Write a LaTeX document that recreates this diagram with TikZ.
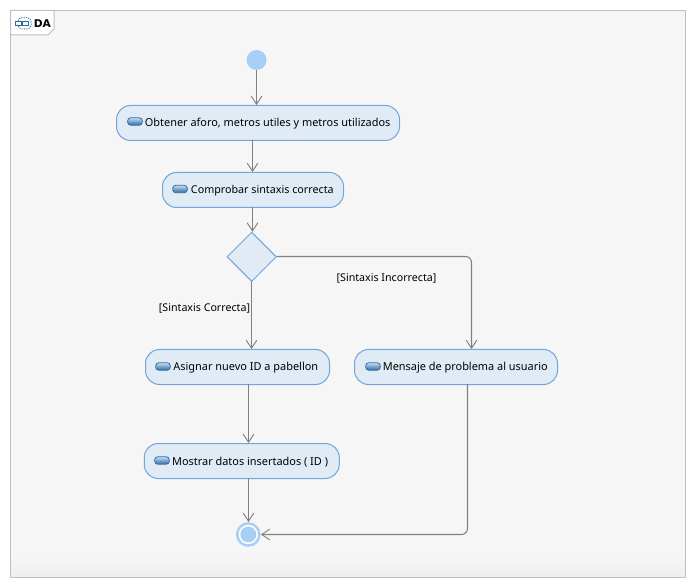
\documentclass[tikz,border=0pt]{standalone}
\usepackage{fontspec}
\setmainfont{Noto Sans}
\newfontfamily\titlefont{DejaVu Sans}
\usetikzlibrary{arrows.meta,shapes.geometric,calc}
\definecolor{frameC}{HTML}{C0C0C0}
\definecolor{bgC}{HTML}{F6F6F6}
\definecolor{boxFill}{HTML}{E1EBF6}
\definecolor{boxLine}{HTML}{72A5DC}
\definecolor{discC}{HTML}{A9CEF5}
\definecolor{wireC}{HTML}{808080}
\definecolor{pillDark}{HTML}{2F6BA3}
\definecolor{pillLight}{HTML}{C4DAEE}
\tikzset{
  x=0.75pt,y=-0.75pt,
  txt/.style={font=\fontsize{8.2}{10}\selectfont,text=black,inner sep=0pt},
  action/.style={txt,text height=6.5pt,text depth=1.5pt,draw=boxLine,fill=boxFill,line width=0.75pt,rounded corners=10.5pt,minimum height=26.25pt,anchor=center},
  lower/.style={text height=7.5pt},
  decision/.style={diamond,aspect=1,draw=boxLine,fill=boxFill,line width=0.75pt,minimum width=37pt,minimum height=37pt,inner sep=0pt},
  startdisc/.style={circle,fill=discC,minimum size=15pt,inner sep=0pt},
  wire/.style={draw=wireC,line width=0.8pt,-{Straight Barb[length=6pt,width=8pt,line width=0.7pt]}},
  pill/.style={draw=pillDark,line width=0.6pt,rounded corners=2.2pt,top color=pillLight,bottom color=pillDark,minimum width=11pt,minimum height=5.5pt,inner sep=0pt},
  tabsq/.style={draw=pillDark,fill=white,line width=0.5pt,minimum width=4.5pt,minimum height=3.5pt,inner sep=0pt},
}
\begin{document}
\begin{tikzpicture}
\useasboundingbox (0,0) rectangle (697,588);
\fill[white] (0,0) rectangle (697,588);
% frame
\fill[bgC] (10.5,10.5) rectangle (685.5,560);
\shade[top color=bgC,bottom color=black!7] (10.5,555) rectangle (685.5,577);
\draw[frameC,line width=0.75pt] (10.5,10.5) rectangle (685.5,577);
\filldraw[fill=white,draw=frameC,line width=0.75pt] (10.5,10.5) -- (54,10.5) -- (54,29) -- (48,35) -- (10.5,35) -- cycle;
\draw[pillDark,densely dotted,line width=0.75pt,rounded corners=3pt] (18,17.5) rectangle (31,29);
\node[tabsq] (tabA) at (18.5,23.5) {};
\node[tabsq] (tabB) at (25.5,23.5) {};
\node[txt,font=\fontsize{8}{10}\selectfont\titlefont\bfseries,anchor=west] (title) at (33.5,23.5) {DA};
% nodes
\node[startdisc] (start) at (256.5,60) {};
\node[action,minimum width=212.25pt] (n1) at (258,123) {\hspace{14.5pt}Obtener aforo, metros utiles y metros utilizados};
\node[action,minimum width=135.75pt,font=\fontsize{8.05}{10}\selectfont] (n2) at (253,190) {\hspace{14pt}Comprobar sintaxis correcta};
\node[decision] (d) at (251.7,256.8) {};
\node[action,lower,minimum width=138pt] (n3) at (237.5,367) {\hspace{12.5pt}Asignar nuevo ID a pabellon};
\node[action,lower,minimum width=152.25pt] (n4) at (456,367) {\hspace{14pt}Mensaje de problema al usuario};
\node[action,lower,minimum width=146.25pt] (n5) at (241.75,461) {\hspace{12.5pt}Mostrar datos insertados ( ID )};
\node[circle,fill=discC,minimum size=18.5pt,inner sep=0pt] (end) at (248.3,534.5) {};
\node[circle,fill=white,minimum size=14.5pt,inner sep=0pt] (endW) at (end) {};
\node[circle,fill=discC,minimum size=12pt,inner sep=0pt] (endI) at (end) {};
% icons
\node[pill] (i1) at (135,121.5) {};
\node[pill] (i2) at (180,189) {};
\node[pill] (i3) at (163,366.5) {};
\node[pill] (i4) at (373,366.5) {};
\node[pill] (i5) at (162,460.5) {};
% connectors
\path[wire] (start.south) -- (start.south |- n1.north);
\coordinate (a12) at (252.5,140);
\path[wire] (a12) -- (a12 |- n2.north);
\coordinate (a2d) at (252.5,207);
\path[wire] (a2d) -- (a2d |- d.north);
\coordinate (ad3) at (251.5,281);
\path[wire] (ad3) -- (ad3 |- n3.north);
\coordinate (a35) at (248.5,384);
\path[wire] (a35) -- (a35 |- n5.north);
\coordinate (a5e) at (248.5,478);
\path[wire] (a5e) -- (a5e |- end.north);
\coordinate (cd4) at (471.5,256.5);
\path[wire,rounded corners=4.5pt] (d.east |- cd4) -- (cd4) -- (cd4 |- n4.north);
\coordinate (a4e) at (467.5,384);
\path[wire,rounded corners=4.5pt] (a4e) -- (a4e |- end.east) -- (end.east);
% labels
\node[txt,font=\fontsize{8}{10}\selectfont,anchor=center] (lblI) at (386.5,278) {[Sintaxis Incorrecta]};
\node[txt,font=\fontsize{8}{10}\selectfont,anchor=center] (lblC) at (204.5,308) {[Sintaxis Correcta]};
\end{tikzpicture}
\end{document}
